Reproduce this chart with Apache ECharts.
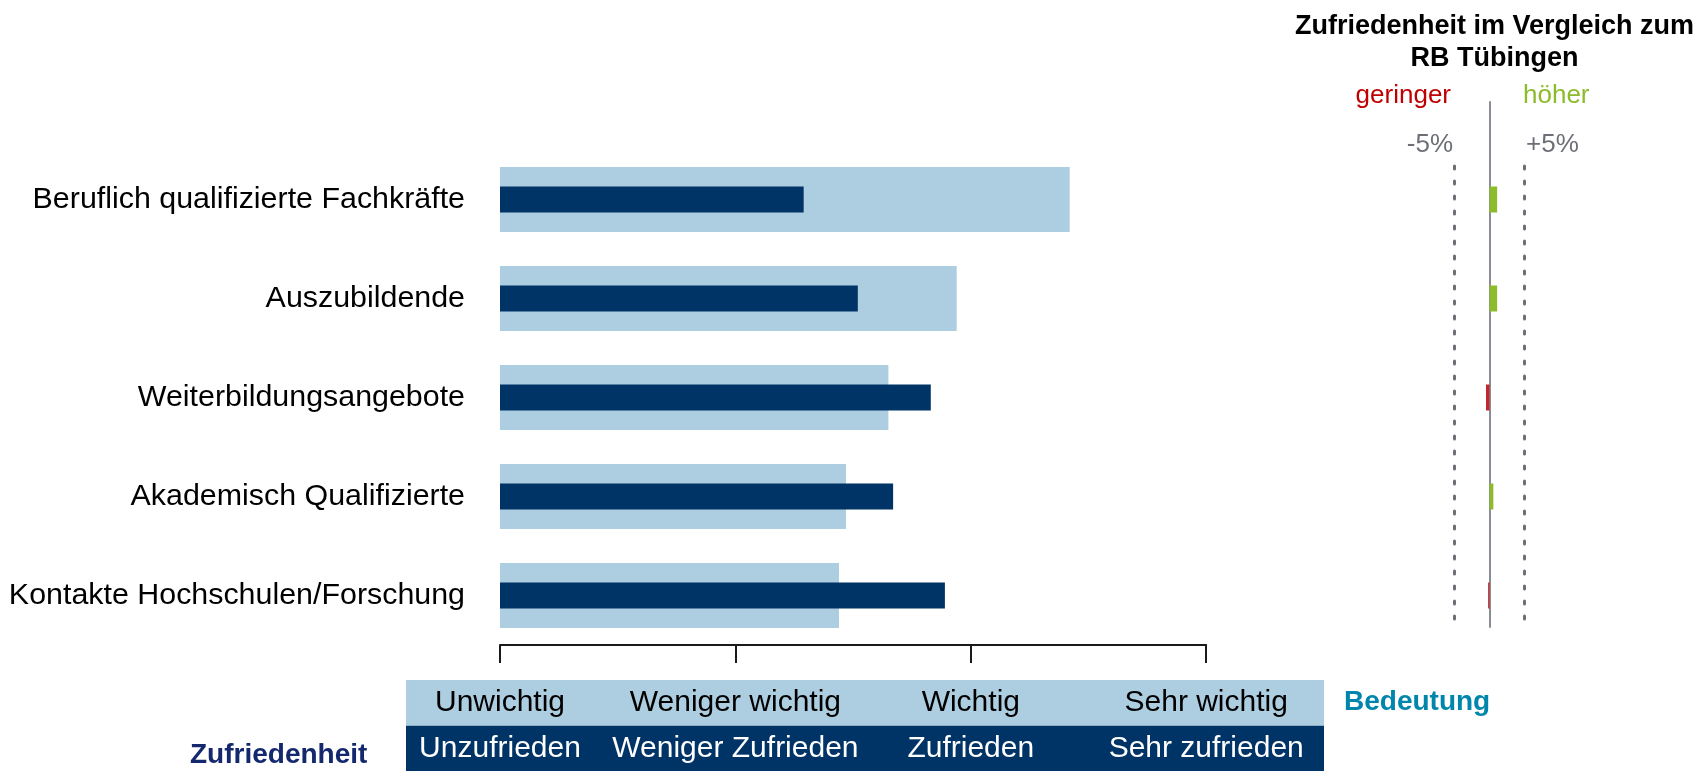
<!DOCTYPE html>
<html><head><meta charset="utf-8">
<script src="https://cdn.jsdelivr.net/npm/echarts@6/dist/echarts.min.js"></script>
<style>html,body{margin:0;padding:0;background:#fff}#c{width:1704px;height:771px}</style>
</head><body><div id="c"></div>
<script>
const categories = ['Beruflich qualifizierte Fachkräfte','Auszubildende','Weiterbildungsangebote','Akademisch Qualifizierte','Kontakte Hochschulen/Forschung'];
const bedeutung = [3.42, 2.94, 2.65, 2.47, 2.44];
const zufriedenheit = [2.29, 2.52, 2.83, 2.67, 2.89];
const vergleich = [1.1, 1.1, -0.5, 0.55, -0.2];
const bedeutungLabels = ['Unwichtig','Weniger wichtig','Wichtig','Sehr wichtig'];
const zufriedenheitLabels = ['Unzufrieden','Weniger Zufrieden','Zufrieden','Sehr zufrieden'];
const vergleichTicks = ['-5%', '+5%'];

const FONT = '"Liberation Sans", Arial, sans-serif';
const LIGHT = '#adcde0', DARK = '#003366', GREEN = '#8cbb2b', RED = '#c1272d', GRAY = '#6d6f76';

const chart = echarts.init(document.getElementById('c'), null, {renderer:'canvas'});
const rightLeft = 1454.7, rightW = 69.6;

const option = {
  animation: false,
  backgroundColor: '#fff',
  textStyle: {fontFamily: FONT},
  title: {
    text: 'Zufriedenheit im Vergleich zum\nRB Tübingen',
    left: 1489.5, top: 6, textAlign: 'center',
    textStyle: {fontFamily: FONT, fontSize: 27, fontWeight: 'bold', color: '#000', lineHeight: 32}
  },
  grid: [
    {left: 500, top: 150, width: 706.2, height: 495},
    {left: rightLeft, top: 150, width: rightW, height: 495},
    {left: rightLeft, top: 166, width: rightW, height: 459},
    {left: rightLeft, top: 102, width: rightW, height: 525}
  ],
  xAxis: [
    {gridIndex: 0, type: 'value', min: 1, max: 4, interval: 1,
     axisLine: {show: true, lineStyle: {color: '#1a1a1a', width: 2}},
     axisTick: {show: true, length: 18, lineStyle: {color: '#1a1a1a', width: 2}},
     splitLine: {show: false},
     axisLabel: {show: true, margin: 35, verticalAlign: 'top',
       formatter: function (v) {
         const i = Math.round(v) - 1;
         return '{a|' + bedeutungLabels[i] + '}\n{b|' + zufriedenheitLabels[i] + '}';
       },
       rich: {
         a: {fontFamily: FONT, fontSize: 30, color: '#000', lineHeight: 45.5, align: 'center'},
         b: {fontFamily: FONT, fontSize: 30, color: '#fff', lineHeight: 45.5, align: 'center'}
       }}},
    {gridIndex: 1, type: 'value', min: -5, max: 5, show: false},
    {gridIndex: 2, type: 'value', min: -5, max: 5, interval: 10,
     axisLine: {show: false}, axisTick: {show: false}, axisLabel: {show: false},
     splitLine: {show: true, showMinLine: true, showMaxLine: true,
       lineStyle: {color: GRAY, width: 3, type: [3, 12], cap: 'round'}}},
    {gridIndex: 3, type: 'value', min: -5, max: 5,
     axisLine: {show: false}, axisTick: {show: false}, axisLabel: {show: false}, splitLine: {show: false}}
  ],
  yAxis: [
    {gridIndex: 0, type: 'category', data: categories, inverse: true,
     axisLine: {show: false}, axisTick: {show: false},
     axisLabel: {margin: 35, fontFamily: FONT, fontSize: 30.4, color: '#000'}},
    {gridIndex: 0, type: 'category', data: categories, inverse: true, show: false},
    {gridIndex: 1, type: 'category', data: categories, inverse: true, show: false},
    {gridIndex: 2, type: 'value', min: 0, max: 1, show: false},
    {gridIndex: 3, type: 'value', min: 0, max: 1,
     axisLine: {show: true, onZero: true, lineStyle: {color: '#8a8d93', width: 2}},
     axisTick: {show: false}, axisLabel: {show: false}, splitLine: {show: false}}
  ],
  series: [
    {name: 'Bedeutung', type: 'bar', xAxisIndex: 0, yAxisIndex: 0, data: bedeutung,
     barWidth: 65, itemStyle: {color: LIGHT}, clip: true, z: 2},
    {name: 'Zufriedenheit', type: 'bar', xAxisIndex: 0, yAxisIndex: 1, data: zufriedenheit,
     barWidth: 26, itemStyle: {color: DARK}, clip: true, z: 3},
    {name: 'Vergleich', type: 'bar', xAxisIndex: 1, yAxisIndex: 2,
     data: vergleich.map(v => ({value: v, itemStyle: {color: v >= 0 ? GREEN : RED}})),
     barWidth: 26, z: 3}
  ],
  graphic: [
    {type: 'rect', z: -10, shape: {x: 406, y: 680, width: 918, height: 45.7}, style: {fill: LIGHT}},
    {type: 'rect', z: -10, shape: {x: 406, y: 725.7, width: 918, height: 45.3}, style: {fill: DARK}},
    {type: 'text', x: 190, y: 755, style: {text: 'Zufriedenheit', font: 'bold 28px ' + FONT, fill: '#14286e', textAlign: 'left', textVerticalAlign: 'middle'}},
    {type: 'text', x: 1344, y: 702, style: {text: 'Bedeutung', font: 'bold 28px ' + FONT, fill: '#0085ad', textAlign: 'left', textVerticalAlign: 'middle'}},
    {type: 'text', x: 1451, y: 96, style: {text: 'geringer', font: '26px ' + FONT, fill: '#c00000', textAlign: 'right', textVerticalAlign: 'middle'}},
    {type: 'text', x: 1523, y: 96, style: {text: 'höher', font: '26px ' + FONT, fill: GREEN, textAlign: 'left', textVerticalAlign: 'middle'}},
    {type: 'text', x: 1453, y: 145, style: {text: vergleichTicks[0], font: '26px ' + FONT, fill: GRAY, textAlign: 'right', textVerticalAlign: 'middle'}},
    {type: 'text', x: 1526, y: 145, style: {text: vergleichTicks[1], font: '26px ' + FONT, fill: GRAY, textAlign: 'left', textVerticalAlign: 'middle'}}
  ]
};
chart.setOption(option);
</script>
</body></html>
